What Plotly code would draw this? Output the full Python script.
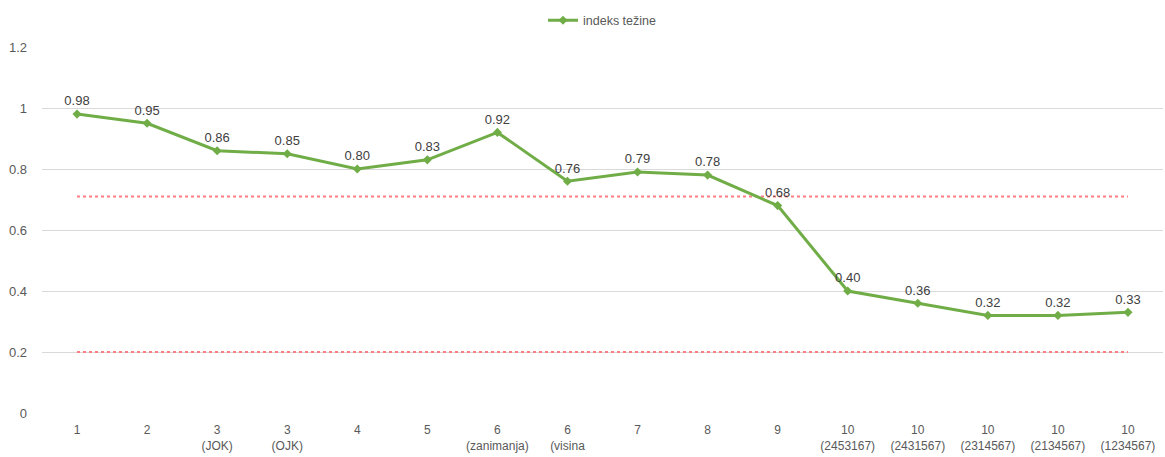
import plotly.graph_objects as go

categories = ["1", "2", "3<br>(JOK)", "3<br>(OJK)", "4", "5", "6<br>(zanimanja)", "6<br>(visina",
              "7", "8", "9", "10<br>(2453167)", "10<br>(2431567)", "10<br>(2314567)",
              "10<br>(2134567)", "10<br>(1234567)"]
values = [0.98, 0.95, 0.86, 0.85, 0.80, 0.83, 0.92, 0.76, 0.79, 0.78, 0.68, 0.40, 0.36, 0.32, 0.32, 0.33]
upper_threshold = 0.71
lower_threshold = 0.20
series_name = "indeks težine"

xs = list(range(len(categories)))
fig = go.Figure()
for thr in [upper_threshold, lower_threshold]:
    fig.add_trace(go.Scatter(x=[xs[0], xs[-1]], y=[thr, thr], mode="lines",
                             line=dict(color="#FF7C80", width=2, dash="dot"),
                             showlegend=False, hoverinfo="skip"))
fig.add_trace(go.Scatter(x=xs, y=values, mode="lines+markers+text", name=series_name,
                         line=dict(color="#70AD47", width=3),
                         marker=dict(symbol="diamond", size=7, color="#70AD47"),
                         text=[f"{v:.2f}" for v in values], textposition="top center",
                         textfont=dict(size=13, color="#404040",
                                       family="Liberation Sans, Arial, sans-serif")))
fig.update_layout(
    width=1165, height=457, paper_bgcolor="white", plot_bgcolor="white",
    margin=dict(l=42, r=2, t=47, b=44, autoexpand=False),
    font=dict(family="Liberation Sans, Arial, sans-serif", color="#595959", size=12),
    legend=dict(orientation="h", x=0.5, xanchor="center", y=0.955, yanchor="middle",
                yref="container", font=dict(size=12.5, color="#595959")),
    xaxis=dict(tickmode="array", tickvals=xs, ticktext=categories, range=[-0.5, len(xs) - 0.5],
               showgrid=False, zeroline=False, showline=False, ticks="", automargin=False,
               tickfont=dict(size=12), ticklabelstandoff=8),
    yaxis=dict(range=[0, 1.2], dtick=0.2, showgrid=True, gridcolor="#D9D9D9", zeroline=False,
               tickformat="~g", ticks="", ticklabelstandoff=14, automargin=False,
               tickfont=dict(size=13)),
)
fig.write_html("out.html", config={"displayModeBar": False},
               post_script="document.body.style.margin='0';")
